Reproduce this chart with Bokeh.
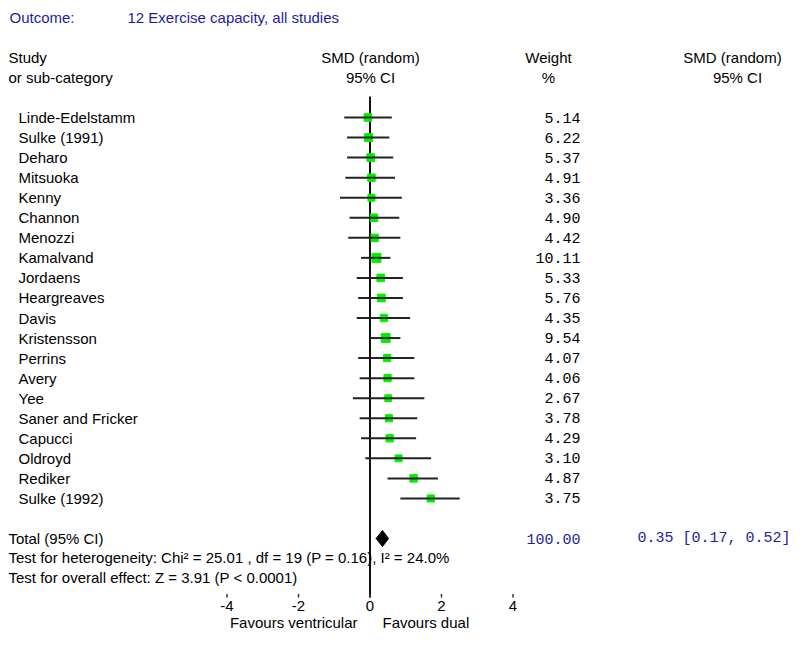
from bokeh.plotting import figure
from bokeh.models import Range1d, ColumnDataSource
from bokeh.core.properties import value
from bokeh.embed import file_html
from bokeh.resources import INLINE

# ---------------- data ----------------
outcome_label = "Outcome:"
outcome_title = "12 Exercise capacity, all studies"
studies = ["Linde-Edelstamm", "Sulke (1991)", "Deharo", "Mitsuoka", "Kenny", "Channon",
           "Menozzi", "Kamalvand", "Jordaens", "Heargreaves", "Davis", "Kristensson",
           "Perrins", "Avery", "Yee", "Saner and Fricker", "Capucci", "Oldroyd",
           "Rediker", "Sulke (1992)"]
smd = [-0.06, -0.04, 0.02, 0.04, 0.04, 0.11, 0.13, 0.18, 0.30, 0.32,
       0.39, 0.44, 0.48, 0.49, 0.51, 0.53, 0.55, 0.80, 1.22, 1.70]
ci_low = [-0.72, -0.64, -0.64, -0.69, -0.84, -0.57, -0.61, -0.25, -0.37, -0.33,
          -0.37, 0.01, -0.33, -0.29, -0.48, -0.29, -0.25, -0.13, 0.49, 0.85]
ci_high = [0.61, 0.54, 0.65, 0.70, 0.89, 0.82, 0.85, 0.57, 0.92, 0.92,
           1.12, 0.85, 1.24, 1.24, 1.52, 1.32, 1.29, 1.71, 1.90, 2.51]
weights = [5.14, 6.22, 5.37, 4.91, 3.36, 4.90, 4.42, 10.11, 5.33, 5.76,
           4.35, 9.54, 4.07, 4.06, 2.67, 3.78, 4.29, 3.10, 4.87, 3.75]
total_smd = 0.35
total_low = 0.17
total_high = 0.52
total_weight = 100.00
heterogeneity = "Test for heterogeneity: Chi\u00b2 = 25.01 , df = 19 (P = 0.16), I\u00b2 = 24.0%"
overall = "Test for overall effect: Z = 3.91 (P < 0.0001)"
ticks = [-4, -2, 0, 2, 4]
tick_labels = ["-4", "-2", "0", "2", "4"]
favours_left = "Favours ventricular"
favours_right = "Favours dual"

# ---------------- layout helpers ----------------
W, H = 792, 629
S = 35.75          # px per SMD unit
ZERO_X = 369.5     # screen x of SMD 0
ROW0_Y = 117.0     # screen y of first study row
ROW_H = 20.05

def fx(px):
    return (px - ZERO_X) / S

def fy(py):
    return 1 + (py - ROW0_Y) / ROW_H

SANS = value("Liberation Sans")
MONO = value("Liberation Mono")
FS = "15px"
BLUE = "#1e1e9c"

p = figure(width=W, height=H, output_backend="svg", toolbar_location=None,
           x_range=Range1d(fx(0), fx(W)), y_range=Range1d(fy(H), fy(0)),
           x_axis_location=None, y_axis_location=None, min_border=0)
p.grid.visible = False
p.outline_line_color = None
p.background_fill_color = "white"

rows = [i + 1 for i in range(len(studies))]
total_row = fy(538)

def txt(x, y, t, align="left", color="black", font=SANS, size=FS):
    p.text(x=[x], y=[y], text=[t], text_align=align, text_baseline="middle",
           text_color=color, text_font=font, text_font_size=size)

# header
txt(fx(9), fy(16.5), outcome_label, color=BLUE)
txt(fx(127), fy(16.5), outcome_title, color=BLUE)
txt(fx(8), fy(57), "Study")
txt(fx(8), fy(77), "or sub-category")
txt(fx(370), fy(57), "SMD (random)", align="center")
txt(fx(370), fy(77), "95% CI", align="center")
txt(fx(548), fy(57), "Weight", align="center")
txt(fx(548), fy(77), "%", align="center")
txt(fx(732), fy(57), "SMD (random)", align="center")
txt(fx(737), fy(77), "95% CI", align="center")

# zero line
p.segment(x0=[0], y0=[fy(96)], x1=[0], y1=[fy(597)], line_color="#111111", line_width=2)

# study rows
src = ColumnDataSource(dict(
    y=rows, study=studies, smd=smd, lo=ci_low, hi=ci_high,
    w=["%.2f" % w for w in weights],
    size=[6 + 0.3 * w for w in weights],
))
p.scatter(x="smd", y="y", source=src, marker="square", size="size",
          fill_color="#00f000", line_color="#00f000")
p.segment(x0="lo", y0="y", x1="hi", y1="y", source=src, line_color="#222222", line_width=2)
p.text(x=fx(18), y="y", text="study", source=src, text_align="left", text_baseline="middle",
       text_font=SANS, text_font_size=FS, text_color="black")
p.text(x=fx(580), y="y", text="w", source=src, text_align="right", text_baseline="middle",
       text_font=MONO, text_font_size=FS, text_color="black")

# total
dh = 8 / ROW_H
p.patch(x=[total_low, total_smd, total_high, total_smd],
        y=[total_row, total_row - dh, total_row, total_row + dh],
        fill_color="black", line_color="black")
txt(fx(8), total_row, "Total (95% CI)")
txt(fx(580), total_row, "%.2f" % total_weight, align="right", color=BLUE, font=MONO)
txt(fx(790), total_row, "%.2f [%.2f, %.2f]" % (total_smd, total_low, total_high),
    align="right", color=BLUE, font=MONO)
txt(fx(8), fy(557), heterogeneity)
txt(fx(8), fy(577), overall)

# axis ticks
tick_src = ColumnDataSource(dict(x=ticks, lab=tick_labels))
p.segment(x0="x", y0=fy(593.5), x1="x", y1=fy(597), source=tick_src,
          line_color="#333333", line_width=1.5)
p.text(x="x", y=fy(605), text="lab", source=tick_src, text_align="center",
       text_baseline="middle", text_font=SANS, text_font_size=FS, text_color="black")
txt(fx(357), fy(621.5), favours_left, align="right")
txt(fx(382), fy(621.5), favours_right, align="left")

open("out.html", "w").write(file_html(p, INLINE))
